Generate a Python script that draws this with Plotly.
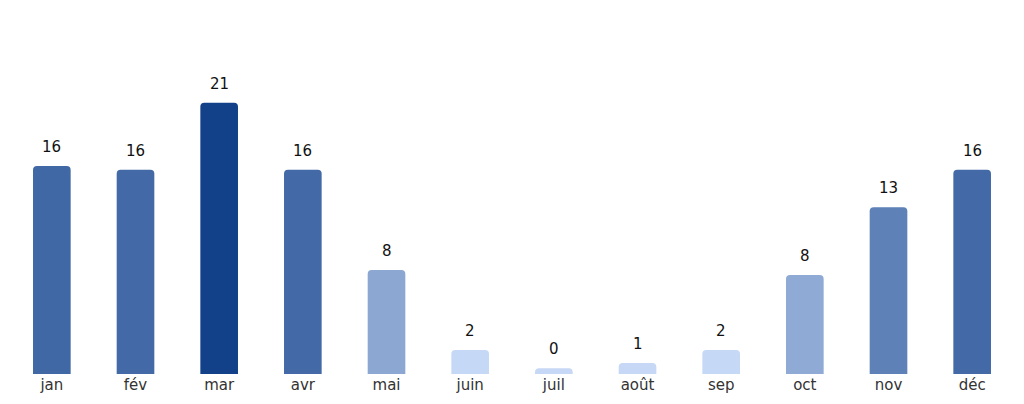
import plotly.graph_objects as go

# monthly values (labels shown rounded)
months = ["jan", "fév", "mar", "avr", "mai", "juin", "juil", "août", "sep", "oct", "nov", "déc"]
values = [16.1, 15.8, 21.0, 15.8, 8.05, 1.86, 0.45, 0.85, 1.86, 7.66, 12.9, 15.8]

fig = go.Figure()
fig.add_trace(go.Bar(
    x=months,
    y=values,
    width=0.45,
    marker=dict(
        color=values,
        colorscale=[[0, "#c6d8f5"], [1, "#12418a"]],
        cmin=1.8,
        cmax=21.0,
        line=dict(width=0),
        cornerradius=4,
    ),
    hoverinfo="x+y",
))

for m, v in zip(months, values):
    fig.add_annotation(
        x=m, y=v, text=f"{v:.0f}", showarrow=False,
        yanchor="bottom", yshift=8,
        font=dict(family="DejaVu Sans", size=15, color="#111111"),
    )

# page body adds an 8px offset, so the figure is sized to fit the window
fig.update_layout(
    width=1008,
    height=388,
    margin=dict(l=2, r=2, t=12, b=22),
    paper_bgcolor="white",
    plot_bgcolor="white",
    showlegend=False,
    font=dict(family="DejaVu Sans", size=15, color="#333333"),
)
fig.update_xaxes(showgrid=False, showline=False, ticks="", zeroline=False,
                 range=[-0.5, 11.5], tickfont=dict(size=15, color="#333333"))
fig.update_yaxes(visible=False, range=[0, 27.4], showgrid=False, zeroline=False)

fig.write_html("out.html")
